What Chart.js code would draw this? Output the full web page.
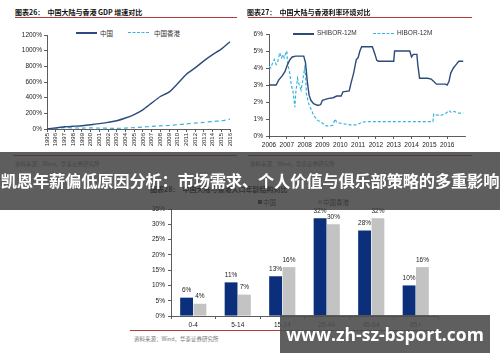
<!DOCTYPE html>
<html>
<head>
<meta charset="utf-8">
<script src="https://cdn.jsdelivr.net/npm/chart.js@4/dist/chart.umd.min.js"></script>
<style>
  html, body { margin: 0; padding: 0; background: #fff; }
  #page { position: relative; width: 500px; height: 362px; overflow: hidden; background: #fff; font-family: "Noto Sans CJK SC", "Noto Sans", sans-serif; }
  .abs { position: absolute; }
  .title { font-size: 7px; font-weight: bold; color: #111; white-space: nowrap; }
  .rule { height: 1px; background: #b03a3a; }
  .src { font-size: 5.5px; color: #777; white-space: nowrap; }
  .legtxt { font-size: 6.5px; color: #333; white-space: nowrap; font-family: Arial, "Liberation Sans", "Noto Sans CJK SC", sans-serif; }
  .wrap { position: absolute; }
  #band { left: 0; top: 152px; width: 500px; height: 58px; background: rgba(58, 58, 58, 0.82); }
  #bandText { left: 0; top: 152px; width: 500px; height: 58px; line-height: 56px; text-align: center; color: #fff; font-size: 16.3px; font-weight: bold; white-space: nowrap; letter-spacing: -0.2px; }
  #wm { left: 280px; top: 315px; width: 210px; height: 38px; background: rgba(78, 78, 78, 0.9); color: #fff; font-family: "Open Sans", "DejaVu Sans", sans-serif; font-weight: bold; font-size: 17.5px; line-height: 38px; text-align: center; }
</style>
</head>
<body>
<div id="page">
  <!-- top left: GDP -->
  <div class="abs title" style="left:15px;top:7px;">图表26：&nbsp; 中国大陆与香港 GDP 增速对比</div>
  <div class="abs rule" style="left:15px;top:17px;width:222px;"></div>
  <div class="abs" style="left:76px;top:32px;width:21px;height:1.5px;background:#2e4a7d;"></div>
  <div class="abs legtxt" style="left:100px;top:28px;">中国</div>
  <div class="abs" style="left:128px;top:32px;width:21px;border-top:1.3px dashed #3bb3d3;"></div>
  <div class="abs legtxt" style="left:154px;top:28px;">中国香港</div>
  <div class="wrap" style="left:0;top:0;width:250px;height:152px;"><canvas id="gdpChart"></canvas></div>
  <div class="abs rule" style="left:13px;top:155px;width:224px;"></div>
  <div class="abs src" style="left:15px;top:160px;">资料来源：Wind，华泰证券研究所</div>

  <!-- top right: rates -->
  <div class="abs title" style="left:247px;top:7px;">图表27：&nbsp; 中国大陆与香港利率环境对比</div>
  <div class="abs rule" style="left:248px;top:17px;width:224px;"></div>
  <div class="abs" style="left:293px;top:33px;width:21px;height:1.5px;background:#2d4a78;"></div>
  <div class="abs legtxt" style="left:317px;top:29px;">SHIBOR-12M</div>
  <div class="abs" style="left:373px;top:33px;width:21px;border-top:1.3px dashed #38b4dc;"></div>
  <div class="abs legtxt" style="left:397px;top:29px;">HIBOR-12M</div>
  <div class="wrap" style="left:250px;top:0;width:250px;height:152px;"><canvas id="rateChart"></canvas></div>
  <div class="abs rule" style="left:248px;top:155px;width:224px;"></div>
  <div class="abs src" style="left:250px;top:160px;">资料来源：Wind，华泰证券研究所</div>

  <!-- bottom: age structure -->
  <div class="abs title" style="left:150px;top:184px;">图表28：&nbsp; 中国大陆与香港人口年龄结构对比</div>
  <div class="abs" style="left:258px;top:200px;width:4px;height:4px;background:#0b2f7a;"></div>
  <div class="abs legtxt" style="left:263px;top:197px;">中国</div>
  <div class="abs" style="left:318px;top:200px;width:4px;height:4px;background:#c3c3c3;"></div>
  <div class="abs legtxt" style="left:323px;top:197px;">中国香港</div>
  <div class="wrap" style="left:120px;top:185px;width:340px;height:145px;"><canvas id="ageChart"></canvas></div>
  <div class="abs rule" style="left:130px;top:330px;width:310px;"></div>
  <div class="abs src" style="left:134px;top:335px;">资料来源：Wind，华泰证券研究所</div>

  <!-- overlays -->
  <div class="abs" id="band"></div>
  <div class="abs" id="bandText">凯恩年薪偏低原因分析：市场需求、个人价值与俱乐部策略的多重影响</div>
  <div class="abs" id="wm">www.zh-sz-bsport.com</div>
</div>

<script>
// --- GDP growth (cumulative, %) ---
const gdpYears = ['1995','1996','1997','1998','1999','2000','2001','2002','2003','2004','2005',
                  '2006','2007','2008','2009','2010','2011','2012','2013','2014','2015','2016'];
const gdpChina = [0, 15, 28, 35, 42, 55, 68, 85, 105, 140, 185, 245, 330, 415, 470, 580, 700, 780, 870, 950, 1020, 1115];
const gdpHK = [0, 8, 18, 14, 12, 14, 12, 10, 8, 12, 18, 24, 33, 40, 45, 55, 65, 75, 85, 95, 105, 125];
const gdpTicks = [0, 200, 400, 600, 800, 1000, 1200];

// --- interest rates (%), x = fractional year ---
const shiborDates = [2006.0, 2006.4, 2006.55, 2006.75, 2006.9, 2007.0, 2007.15, 2007.3, 2007.5, 2007.95, 2008.05, 2008.15,
                     2008.25, 2008.35, 2008.5, 2008.75, 2008.9, 2009.0, 2009.3, 2009.6, 2009.8, 2010.05, 2010.15, 2010.5,
                     2010.6, 2010.75, 2010.9, 2011.0, 2011.1, 2011.2, 2011.8, 2011.95, 2012.05, 2012.15, 2013.0, 2013.05,
                     2013.9, 2014.0, 2014.1, 2014.3, 2014.35, 2014.45, 2014.9, 2015.1, 2015.25, 2015.4, 2015.9, 2016.0,
                     2016.1, 2016.2, 2016.35, 2016.5, 2016.65, 2016.9];
const shiborValues = [3.0, 3.0, 3.3, 3.55, 3.8, 4.1, 4.45, 4.65, 4.7, 4.7, 4.3, 3.2,
                      2.4, 2.1, 1.9, 1.8, 1.85, 2.1, 2.2, 2.25, 2.35, 2.35, 2.6, 2.65,
                      3.1, 3.7, 4.5, 4.6, 5.0, 5.25, 5.25, 4.8, 4.45, 4.4, 4.4, 5.0,
                      5.0, 4.65, 4.8, 4.8, 4.2, 3.4, 3.4, 3.35, 3.2, 3.05, 3.05, 3.0,
                      3.2, 3.7, 4.0, 4.2, 4.4, 4.4];
const hiborDates = [2006.0, 2006.1, 2006.2, 2006.3, 2006.4, 2006.5, 2006.6, 2006.7, 2006.8, 2006.85, 2006.95, 2007.0,
                    2007.05, 2007.15, 2007.25, 2007.35, 2007.45, 2007.5, 2007.6, 2007.7, 2007.8, 2007.9, 2008.0, 2008.05,
                    2008.1, 2008.2, 2008.3, 2008.4, 2008.5, 2008.6, 2008.75, 2008.9, 2009.0, 2009.2, 2009.45, 2009.6,
                    2009.7, 2009.8, 2010.0, 2010.3, 2010.6, 2010.9, 2011.2, 2011.5, 2012.0, 2013.0, 2014.0, 2015.2,
                    2015.25, 2015.35, 2015.6, 2015.9, 2016.1, 2016.2, 2016.4, 2016.6, 2016.9];
const hiborValues = [4.1, 4.0, 4.3, 4.5, 4.2, 4.4, 4.9, 4.6, 4.8, 4.6, 4.9, 5.0,
                     4.2, 3.8, 3.0, 2.6, 1.7, 2.5, 3.4, 3.0, 2.7, 3.3, 4.0, 3.6,
                     2.5, 2.0, 1.7, 1.5, 1.2, 1.1, 0.9, 0.85, 0.75, 0.6, 0.6, 0.65,
                     1.0, 0.8, 0.75, 0.7, 0.65, 0.65, 0.8, 0.85, 0.85, 0.85, 0.85, 0.85,
                     1.3, 1.25, 1.2, 1.3, 1.5, 1.4, 1.45, 1.35, 1.35];
const rateYearTicks = [2006, 2007, 2008, 2009, 2010, 2011, 2012, 2013, 2014, 2015, 2016];

// --- age structure (%) ---
const ageGroups = ['0-4', '5-14', '15-24', '25-44', '45-64', '65+'];
const ageChina = [6, 11, 13, 32, 28, 10];
const ageHK = [4, 7, 16, 30, 32, 16];

const tickFont = { family: 'Arial, "Liberation Sans", sans-serif', size: 6.5 };
const tickColor = '#222';
const axisGrid = { drawOnChartArea: false, tickLength: 3, color: '#333', lineWidth: 0.8 };
const axisBorder = { color: '#333', width: 0.8 };

const toPoints = (xs, ys) => xs.map((x, i) => ({ x: x, y: ys[i] }));

new Chart(document.getElementById('gdpChart'), {
    type: 'line',
    data: {
        labels: gdpYears,
        datasets: [
            { label: '中国', data: gdpChina, borderColor: '#2e4a7d', borderWidth: 1.4, pointRadius: 0, tension: 0.2 },
            { label: '中国香港', data: gdpHK, borderColor: '#3bb3d3', borderWidth: 1.2, borderDash: [4, 3], pointRadius: 0, tension: 0.2 }
        ]
    },
    options: {
        responsive: true, maintainAspectRatio: false, animation: false,
        layout: { padding: { top: 35, right: 20, left: 0, bottom: 0 } },
        plugins: { legend: { display: false }, tooltip: { enabled: false } },
        scales: {
            x: {
                grid: axisGrid, border: axisBorder,
                ticks: { font: { ...tickFont, size: 6 }, color: tickColor, minRotation: 90, maxRotation: 90, autoSkip: false, padding: 1 },
                afterFit: (s) => { s.height = 23; }
            },
            y: {
                min: 0, max: 1200,
                afterBuildTicks: (s) => { s.ticks = gdpTicks.map(v => ({ value: v })); },
                grid: axisGrid, border: axisBorder,
                ticks: { font: tickFont, color: tickColor, padding: 2, callback: (v) => v + '%' },
                afterFit: (s) => { s.width = 47; }
            }
        }
    }
});

new Chart(document.getElementById('rateChart'), {
    type: 'line',
    data: {
        datasets: [
            { label: 'SHIBOR-12M', data: toPoints(shiborDates, shiborValues), borderColor: '#2d4a78', borderWidth: 1.4, pointRadius: 0 },
            { label: 'HIBOR-12M', data: toPoints(hiborDates, hiborValues), borderColor: '#38b4dc', borderWidth: 1.2, borderDash: [3, 2], pointRadius: 0 }
        ]
    },
    options: {
        responsive: true, maintainAspectRatio: false, animation: false,
        layout: { padding: { top: 34, right: 35, left: 0, bottom: 0 } },
        plugins: { legend: { display: false }, tooltip: { enabled: false } },
        scales: {
            x: {
                type: 'linear', min: 2006, max: 2017,
                afterBuildTicks: (s) => { s.ticks = rateYearTicks.map(v => ({ value: v })); },
                grid: axisGrid, border: axisBorder,
                ticks: { font: tickFont, color: tickColor, maxRotation: 0, padding: 2, callback: (v) => String(v) },
                afterFit: (s) => { s.height = 16; }
            },
            y: {
                min: 0, max: 6,
                ticks: { stepSize: 1, font: tickFont, color: tickColor, padding: 3, callback: (v) => v + '%' },
                grid: axisGrid, border: axisBorder,
                afterFit: (s) => { s.width = 19; }
            }
        }
    }
});

// value labels above each bar
const barLabels = {
    id: 'barLabels',
    afterDatasetsDraw(chart) {
        const ctx = chart.ctx;
        ctx.save();
        ctx.font = '6.5px Arial, "Liberation Sans", sans-serif';
        ctx.fillStyle = '#222';
        ctx.textAlign = 'center';
        ctx.textBaseline = 'bottom';
        chart.data.datasets.forEach((ds, i) => {
            chart.getDatasetMeta(i).data.forEach((bar, j) => {
                ctx.fillText(ds.data[j] + '%', bar.x, bar.y - 4);
            });
        });
        ctx.restore();
    }
};

new Chart(document.getElementById('ageChart'), {
    type: 'bar',
    data: {
        labels: ageGroups,
        datasets: [
            { label: '中国', data: ageChina, backgroundColor: '#0b2f7a', categoryPercentage: 0.6, barPercentage: 0.96 },
            { label: '中国香港', data: ageHK, backgroundColor: '#c3c3c3', categoryPercentage: 0.6, barPercentage: 0.96 }
        ]
    },
    options: {
        responsive: true, maintainAspectRatio: false, animation: false,
        layout: { padding: { top: 24, right: 22, left: 0, bottom: 0 } },
        plugins: { legend: { display: false }, tooltip: { enabled: false } },
        scales: {
            x: {
                grid: { ...axisGrid, offset: true }, border: axisBorder,
                ticks: { font: tickFont, color: tickColor, padding: 2 },
                afterFit: (s) => { s.height = 14; }
            },
            y: {
                min: 0, max: 35,
                ticks: { stepSize: 5, font: tickFont, color: tickColor, padding: 3, callback: (v) => v + '%' },
                grid: axisGrid, border: axisBorder,
                afterFit: (s) => { s.width = 51; }
            }
        }
    },
    plugins: [barLabels]
});
</script>
</body>
</html>
